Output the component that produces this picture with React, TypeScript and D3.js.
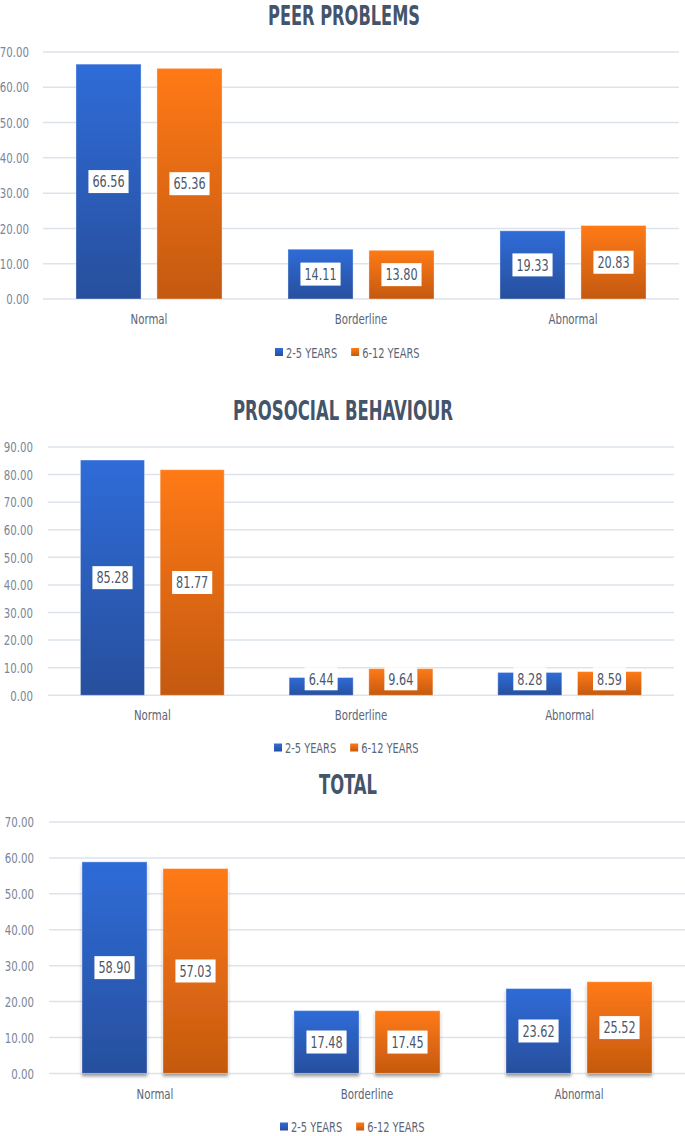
import React, { useEffect, useRef } from "react";
import * as d3 from "d3";

const categories = ["Normal", "Borderline", "Abnormal"];
const seriesNames = ["2-5 YEARS", "6-12 YEARS"];

const peer25 = [66.56, 14.11, 19.33];
const peer612 = [65.36, 13.8, 20.83];
const prosocial25 = [85.28, 6.44, 8.28];
const prosocial612 = [81.77, 9.64, 8.59];
const total25 = [58.9, 17.48, 23.62];
const total612 = [57.03, 17.45, 25.52];

const titles = ["PEER PROBLEMS", "PROSOCIAL BEHAVIOUR", "TOTAL"];
const yMaxes = [70, 90, 70];
const tickStep = 10;

const FONT = "'Liberation Sans Narrow', 'Arial Narrow', 'DejaVu Sans Condensed', 'DejaVu Sans', sans-serif";
const SQUEEZE = 0.78;

type Panel = {
  title: string;
  a: number[];
  b: number[];
  yMax: number;
  titleY: number;
  titleLen: number;
  titleX: number;
  x0: number;
  x1: number;
  yTop: number;
  yBottom: number;
  tickRight: number;
  catY: number;
  legY: number;
  legX: number;
  shadow: boolean;
};

const panels: Panel[] = [
  { title: titles[0], a: peer25, b: peer612, yMax: yMaxes[0], titleY: 24.5, titleLen: 152, titleX: 344, x0: 43, x1: 679, yTop: 52, yBottom: 299, tickRight: 29, catY: 324, legY: 357.5, legX: 275, shadow: false },
  { title: titles[1], a: prosocial25, b: prosocial612, yMax: yMaxes[1], titleY: 420, titleLen: 220, titleX: 343, x0: 48, x1: 674, yTop: 447, yBottom: 695.3, tickRight: 33, catY: 720, legY: 753, legX: 274, shadow: false },
  { title: titles[2], a: total25, b: total612, yMax: yMaxes[2], titleY: 794, titleLen: 58, titleX: 348, x0: 49, x1: 685, yTop: 822, yBottom: 1073.4, tickRight: 34, catY: 1099, legY: 1132, legX: 280, shadow: true },
];

function squeeze(t: d3.Selection<SVGTextElement, any, any, any>) {
  t.each(function () {
    const el = this as SVGTextElement;
    const w = el.getComputedTextLength();
    el.setAttribute("textLength", String(w * SQUEEZE));
    el.setAttribute("lengthAdjust", "spacingAndGlyphs");
    el.setAttribute("data-w", String(w * SQUEEZE));
  });
}

export default function App() {
  const ref = useRef<SVGSVGElement | null>(null);

  useEffect(() => {
    const svg = d3.select(ref.current);
    svg.selectAll("*").remove();
    const defs = svg.append("defs");
    const grads = [
      { id: "gBlue", top: "#2f6cd8", bottom: "#274f9d" },
      { id: "gOrange", top: "#ff7a16", bottom: "#c45910" },
    ];
    grads.forEach((g) => {
      const lg = defs.append("linearGradient").attr("id", g.id).attr("x1", 0).attr("y1", 0).attr("x2", 0).attr("y2", 1);
      lg.append("stop").attr("offset", "0%").attr("stop-color", g.top);
      lg.append("stop").attr("offset", "100%").attr("stop-color", g.bottom);
    });
    const f = defs.append("filter").attr("id", "shadow").attr("x", "-20%").attr("y", "-20%").attr("width", "140%").attr("height", "140%");
    f.append("feDropShadow").attr("dx", 0).attr("dy", 3).attr("stdDeviation", 1.5).attr("flood-color", "#000").attr("flood-opacity", 0.35);

    const fills = ["url(#gBlue)", "url(#gOrange)"];

    panels.forEach((p) => {
      const g = svg.append("g");
      const y = d3.scaleLinear().domain([0, p.yMax]).range([p.yBottom, p.yTop]);
      const x = d3.scaleBand<string>().domain(categories).range([p.x0, p.x1]).paddingInner(0).paddingOuter(0);
      const bw = x.bandwidth();
      const barW = bw * 0.307;
      const gap = bw * 0.075;

      // title
      g.append("text")
        .attr("x", p.titleX)
        .attr("y", p.titleY)
        .attr("text-anchor", "middle")
        .attr("font-family", FONT)
        .attr("font-weight", "bold")
        .attr("font-size", 27)
        .attr("fill", "#44546a")
        .attr("textLength", p.titleLen)
        .attr("lengthAdjust", "spacingAndGlyphs")
        .text(p.title);

      // grid + ticks
      const ticks = d3.range(0, p.yMax + 0.001, tickStep);
      g.selectAll(null)
        .data(ticks)
        .enter()
        .append("line")
        .attr("x1", p.x0)
        .attr("x2", p.x1)
        .attr("y1", (d) => y(d))
        .attr("y2", (d) => y(d))
        .attr("stroke", "#dde3ec")
        .attr("stroke-width", 1.5);
      const tt = g
        .selectAll(null)
        .data(ticks)
        .enter()
        .append("text")
        .attr("x", p.tickRight)
        .attr("y", (d) => y(d) + 5.2)
        .attr("text-anchor", "end")
        .attr("font-family", FONT)
        .attr("font-size", 14.5)
        .attr("fill", "#7a869a")
        .text((d) => d3.format(".2f")(d));
      squeeze(tt as any);

      // bars
      const series = [p.a, p.b];
      series.forEach((vals, si) => {
        vals.forEach((v, ci) => {
          const cx = (x(categories[ci]) as number) + bw / 2;
          const bx = si === 0 ? cx - gap / 2 - barW : cx + gap / 2;
          const rect = g
            .append("rect")
            .attr("x", bx)
            .attr("y", y(v))
            .attr("width", barW)
            .attr("height", p.yBottom - y(v))
            .attr("fill", fills[si])
            .attr("stroke", "rgba(255,255,255,0.35)")
            .attr("stroke-width", 1);
          if (p.shadow) rect.attr("filter", "url(#shadow)");
        });
      });

      // value labels
      series.forEach((vals, si) => {
        vals.forEach((v, ci) => {
          const cx = (x(categories[ci]) as number) + bw / 2;
          const bcx = si === 0 ? cx - gap / 2 - barW / 2 : cx + gap / 2 + barW / 2;
          const boxH = 23;
          let cy = (y(v) + p.yBottom) / 2;
          cy = Math.min(cy, p.yBottom - boxH / 2 - 5);
          const lg = g.append("g");
          const box = lg.append("rect").attr("fill", "#ffffff");
          const t = lg
            .append("text")
            .attr("x", bcx)
            .attr("y", cy + 5.8)
            .attr("text-anchor", "middle")
            .attr("font-family", FONT)
            .attr("font-size", 16)
            .attr("fill", "#4a566b")
            .text(d3.format(".2f")(v));
          squeeze(t as any);
          const tw = parseFloat(t.attr("data-w"));
          box
            .attr("x", bcx - tw / 2 - 4)
            .attr("y", cy - boxH / 2)
            .attr("width", tw + 8)
            .attr("height", boxH);
        });
      });

      // category labels
      const ct = g
        .selectAll(null)
        .data(categories)
        .enter()
        .append("text")
        .attr("x", (d) => (x(d) as number) + bw / 2)
        .attr("y", p.catY)
        .attr("text-anchor", "middle")
        .attr("font-family", FONT)
        .attr("font-size", 14.5)
        .attr("fill", "#5b6577")
        .text((d) => d);
      squeeze(ct as any);

      // legend
      let lx = p.legX;
      seriesNames.forEach((name, si) => {
        g.append("rect")
          .attr("x", lx)
          .attr("y", p.legY - 9.5)
          .attr("width", 8)
          .attr("height", 8)
          .attr("fill", fills[si]);
        const t = g
          .append("text")
          .attr("x", lx + 11)
          .attr("y", p.legY)
          .attr("font-family", FONT)
          .attr("font-size", 14)
          .attr("fill", "#5b6577")
          .text(name);
        squeeze(t as any);
        const tw = parseFloat(t.attr("data-w"));
        lx = lx + 11 + tw + 14;
      });
    });
  }, []);

  return (
    <svg
      ref={ref}
      width={685}
      height={1136}
      style={{ position: "absolute", left: 0, top: 0, background: "#ffffff" }}
    />
  );
}
